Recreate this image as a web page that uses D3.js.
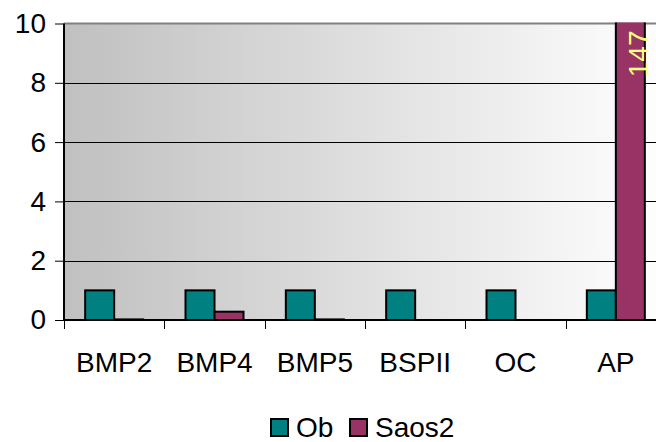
<!DOCTYPE html>
<html>
<head>
<meta charset="utf-8">
<script src="https://cdn.jsdelivr.net/npm/d3@7"></script>
<style>
  html, body { margin: 0; padding: 0; background: #fff; }
  svg { display: block; font-family: Arial, "Liberation Sans", sans-serif; }
</style>
</head>
<body>
<svg id="chart" width="656" height="442"></svg>
<script>
// Gene markers and relative expression per cell line
const categories = ["BMP2", "BMP4", "BMP5", "BSPII", "OC", "AP"];
const seriesNames = ["Ob", "Saos2"];
const obValues = [1, 1, 1, 1, 1, 1];
const saos2Values = [0.02, 0.28, 0.02, 0, 0, 147];
const yTicks = [0, 2, 4, 6, 8, 10];
const colors = ["#008080", "#993366"];

const FONT = "Arial, 'Liberation Sans', sans-serif";
const FS = 28;

const svg = d3.select("#chart");
const plot = { left: 64, right: 666, top: 23.5, bottom: 320 };

const x0 = d3.scaleBand().domain(categories).range([plot.left, plot.right]);
const y = d3.scaleLinear().domain([0, 10]).range([plot.bottom, plot.top]);
const barW = 29;
const barOffset = (x0.bandwidth() - 2 * barW) / 2;

// Background gradient of the plot area
const defs = svg.append("defs");
const grad = defs.append("linearGradient").attr("id", "bg").attr("x1", "0").attr("x2", "1").attr("y1", "0").attr("y2", "0");
grad.append("stop").attr("offset", "0").attr("stop-color", "#c0c0c0");
grad.append("stop").attr("offset", "1").attr("stop-color", "#ffffff");
defs.append("clipPath").attr("id", "plotClip").append("rect")
  .attr("x", plot.left).attr("y", plot.top - 1).attr("width", plot.right - plot.left).attr("height", plot.bottom - plot.top + 2);

svg.append("rect")
  .attr("x", plot.left).attr("y", plot.top)
  .attr("width", plot.right - plot.left).attr("height", plot.bottom - plot.top)
  .attr("fill", "url(#bg)");

// Horizontal gridlines
svg.append("g").selectAll("line").data(yTicks.filter(t => t > 0 && t < 10)).join("line")
  .attr("x1", plot.left).attr("x2", plot.right)
  .attr("y1", d => Math.round(y(d)) + 0.5).attr("y2", d => Math.round(y(d)) + 0.5)
  .attr("stroke", "#000").attr("stroke-width", 1);

// Top border of plot area
svg.append("line").attr("x1", plot.left).attr("x2", plot.right)
  .attr("y1", y(10)).attr("y2", y(10)).attr("stroke", "#808080").attr("stroke-width", 2);

// Bars
const rows = categories.map((c, i) => ({ cat: c, vals: [obValues[i], saos2Values[i]] }));
const barsG = svg.append("g").attr("clip-path", "url(#plotClip)");
rows.forEach(r => {
  r.vals.forEach((v, j) => {
    const bx = x0(r.cat) + barOffset + j * barW;
    const top = y(Math.min(v, 10.3));
    barsG.append("rect")
      .attr("x", bx).attr("y", top)
      .attr("width", barW).attr("height", Math.max(0, y(0) - top))
      .attr("fill", colors[j]).attr("stroke", "#000").attr("stroke-width", 2);
  });
});

// Value label for the bar that runs off the scale
const apIdx = categories.indexOf("AP");
svg.append("text")
  .attr("transform", `translate(${x0("AP") + barOffset + barW * 2 + 3},${y(10) + 7}) rotate(-90)`)
  .attr("text-anchor", "end")
  .attr("font-size", FS).attr("font-family", FONT)
  .attr("fill", "#ffff80")
  .text(saos2Values[apIdx]);

// Y axis
const yAxis = d3.axisLeft(y).tickValues(yTicks).tickSize(9).tickPadding(9);
const yg = svg.append("g").attr("transform", `translate(${plot.left},0)`).call(yAxis);
yg.select(".domain").attr("stroke", "#000").attr("stroke-width", 2).attr("d", `M0,${plot.top}V${plot.bottom}`);
yg.selectAll(".tick line").attr("stroke", "#000").attr("stroke-width", 1);
yg.selectAll(".tick text").attr("font-size", FS).attr("fill", "#000").attr("font-family", FONT);

// X axis
const xg = svg.append("g").attr("transform", `translate(0,${plot.bottom})`);
xg.append("line").attr("x1", plot.left).attr("x2", plot.right).attr("y1", 0).attr("y2", 0)
  .attr("stroke", "#000").attr("stroke-width", 2);
xg.selectAll("line.tk").data(categories.map(c => x0(c)).concat([plot.right])).join("line")
  .attr("class", "tk")
  .attr("x1", d => Math.round(d) + 0.5).attr("x2", d => Math.round(d) + 0.5)
  .attr("y1", 0).attr("y2", 9).attr("stroke", "#000").attr("stroke-width", 1);
xg.selectAll("text").data(categories).join("text")
  .attr("x", d => x0(d) + x0.bandwidth() / 2)
  .attr("y", 52)
  .attr("text-anchor", "middle")
  .attr("font-size", FS).attr("font-family", FONT).attr("fill", "#000")
  .text(d => d);

// Legend
const legend = svg.append("g");
const legendItems = [
  { name: seriesNames[0], color: colors[0], x: 271 },
  { name: seriesNames[1], color: colors[1], x: 350 }
];
legendItems.forEach(it => {
  legend.append("rect").attr("x", it.x).attr("y", 419).attr("width", 17).attr("height", 17)
    .attr("fill", it.color).attr("stroke", "#000").attr("stroke-width", 2);
  legend.append("text").attr("x", it.x + 25).attr("y", 437)
    .attr("font-size", FS).attr("font-family", FONT).attr("fill", "#000").text(it.name);
});
</script>
</body>
</html>
